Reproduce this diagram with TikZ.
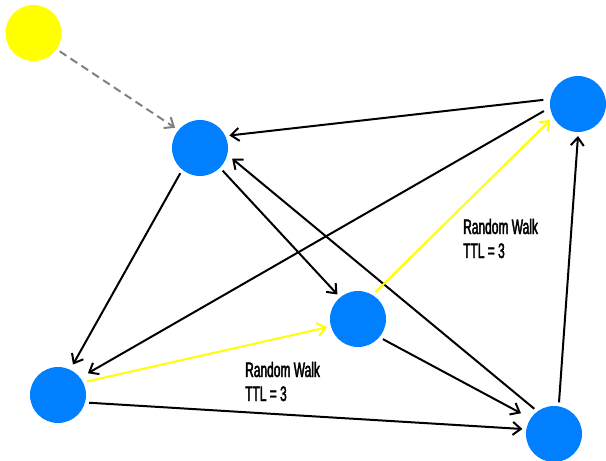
\documentclass[tikz,border=0pt]{standalone}
\usepackage{fontspec}
\usetikzlibrary{arrows.meta}
\newfontfamily\lblfont[FakeStretch=0.57, FakeBold=2]{Liberation Sans}
\definecolor{peerblue}{HTML}{0080FF}
\definecolor{seedyellow}{HTML}{FFFF00}
\definecolor{dashgray}{HTML}{808080}
\tikzset{
  peer/.style={circle, fill=peerblue, minimum size=56pt, inner sep=0pt, outer sep=4pt},
  seed/.style={circle, fill=seedyellow, minimum size=56pt, inner sep=0pt, outer sep=4pt},
  barb/.style={-{Straight Barb[length=8pt, width=13pt, line width=2pt]}},
  link/.style={barb, draw=black, line width=2pt},
  walk/.style={barb, draw=seedyellow, line width=2pt},
  joinlink/.style={barb, draw=dashgray, line width=2pt, dash pattern=on 8pt off 5pt},
  lbl/.style={anchor=base west, align=left, inner sep=0pt,
    font=\lblfont\fontsize{21pt}{24pt}\selectfont}
}
\begin{document}
\begin{tikzpicture}[x=1pt, y=-1pt]
\useasboundingbox (0,0) rectangle (606,461);

% peers
\node[seed] (Y) at (33.5,33) {};
\node[peer] (A) at (200,148) {};
\node[peer] (B) at (578,104) {};
\node[peer] (C) at (358,319) {};
\node[peer] (D) at (58,395) {};
\node[peer] (E) at (554,434) {};

% joining peer
\draw[joinlink] (Y.-35) -- (A.141);

% overlay links
\draw[link, shorten <=3pt] (B.172) -- (A.23);
\draw[link, shorten <=3pt, shorten >=5pt] (B.190) -- (D.37);
\draw[link, shorten >=2pt] (A.232) -- (D.64);
\draw[link] (A.-45) -- (C.130);
\draw[link, shorten >=2pt] (E.128) -- (A.-17);
\draw[link, shorten >=7pt] (C.-39) -- (E.147);
\draw[link] (D.-14) -- (E.171);
\draw[link] (E.81) -- (B.270);

% random walk
\draw[walk] (D.25) -- (C.195);
\draw[walk] (C.57) -- (B.210);

% labels (anchored at the baseline of the second line)
\node[lbl] (w1) at (463,258) {Random Walk\\TTL = 3};
\node[lbl] (w2) at (245,401) {Random Walk\\TTL = 3};
\end{tikzpicture}
\end{document}
